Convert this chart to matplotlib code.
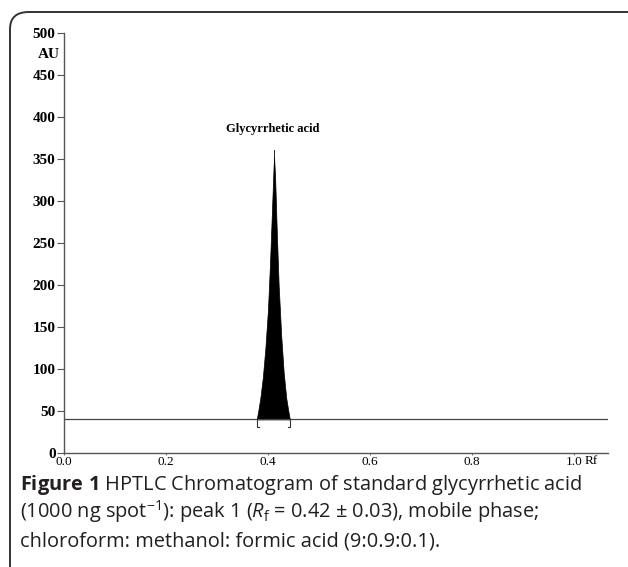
import matplotlib.pyplot as plt
from matplotlib.patches import FancyBboxPatch

# peak profile (Rf, AU)
rf = [0.378, 0.381, 0.385, 0.390, 0.395, 0.400, 0.404, 0.408, 0.411, 0.412,
      0.414, 0.417, 0.421, 0.426, 0.431, 0.436, 0.440, 0.443]
au = [40, 50, 65, 90, 125, 170, 225, 290, 340, 352,
      330, 270, 200, 140, 95, 65, 50, 40]
baseline = 40
peak_rf = 0.412
peak_top = 361
peak_start, peak_end = 0.378, 0.443
peak_label = "Glycyrrhetic acid"

yticks = [0, 50, 100, 150, 200, 250, 300, 350, 400, 450, 500]
xticks = [0.0, 0.2, 0.4, 0.6, 0.8, 1.0]
xticklabels = ["0.0", "0.2", "0.4", "0.6", "0.8", "1.0"]

plt.rcParams['mathtext.fontset'] = 'custom'
plt.rcParams['mathtext.rm'] = 'Open Sans'
plt.rcParams['mathtext.it'] = 'Open Sans:italic'
plt.rcParams['mathtext.bf'] = 'Open Sans:bold'

W, H = 628, 567
fig = plt.figure(figsize=(W / 100, H / 100), dpi=100)

# rounded frame around figure
frame = FancyBboxPatch((10 / W, -20 / H), 700 / W, (H - 12 + 20) / H,
                       boxstyle="round,pad=0,rounding_size=0.03",
                       transform=fig.transFigure, fill=False,
                       edgecolor="#333333", linewidth=1.4, clip_on=False)
fig.patches.append(frame)

ax = fig.add_axes([64 / W, (H - 453) / H, 544 / W, 420 / H])
ax.set_xlim(0, 1.067)
ax.set_ylim(0, 500)

ax.axhline(baseline, color="#444444", lw=0.9)
ax.fill_between(rf, baseline, au, color="black", lw=0.5, edgecolor="black")
ax.plot([peak_rf, peak_rf], [340, peak_top], color="black", lw=0.6)
# integration brackets
ax.plot([peak_start + 0.004, peak_start, peak_start], [31, 31, baseline], color="#333333", lw=0.8)
ax.plot([peak_end - 0.004, peak_end, peak_end], [31, 31, baseline], color="#333333", lw=0.8)
ax.text(peak_rf - 0.002, 378, peak_label, ha="center", va="bottom",
        fontfamily="Liberation Serif", fontweight="bold", fontsize=9)

for s in ["top", "right"]:
    ax.spines[s].set_visible(False)
for s in ["left", "bottom"]:
    ax.spines[s].set_color("#555555")
    ax.spines[s].set_linewidth(1.0)

ax.set_yticks(yticks)
ax.set_yticklabels([str(v) for v in yticks], fontfamily="Liberation Serif",
                   fontweight="bold", fontsize=11)
ax.tick_params(axis="y", length=5, width=0.8, color="#555555", pad=1)
ax.set_xticks(xticks)
ax.set_xticklabels(xticklabels, fontfamily="Liberation Serif", fontsize=9.5)
ax.tick_params(axis="x", length=1.5, width=0.8, color="#777777", pad=1)

fig.text(38 / W, 1 - 55 / H, "AU", fontfamily="Liberation Serif",
         fontweight="bold", fontsize=11, va="center")
fig.text(585 / W, 1 - 461 / H, "Rf", fontfamily="Liberation Serif",
         fontsize=9.5, va="center")

cap_kw = dict(fontfamily="Open Sans", fontsize=14.4, color="#231f20", va="baseline")
fig.text(20 / W, 1 - 490 / H,
         r"$\mathbf{Figure\ 1}$ HPTLC Chromatogram of standard glycyrrhetic acid", **cap_kw)
fig.text(20 / W, 1 - 518 / H,
         r"(1000 ng spot$^{-1}$): peak 1 ($R_{\mathrm{f}}$ = 0.42 ± 0.03), mobile phase;", **cap_kw)
fig.text(20 / W, 1 - 546 / H,
         "chloroform: methanol: formic acid (9:0.9:0.1).", **cap_kw)

fig.savefig("out.png", dpi=100)
